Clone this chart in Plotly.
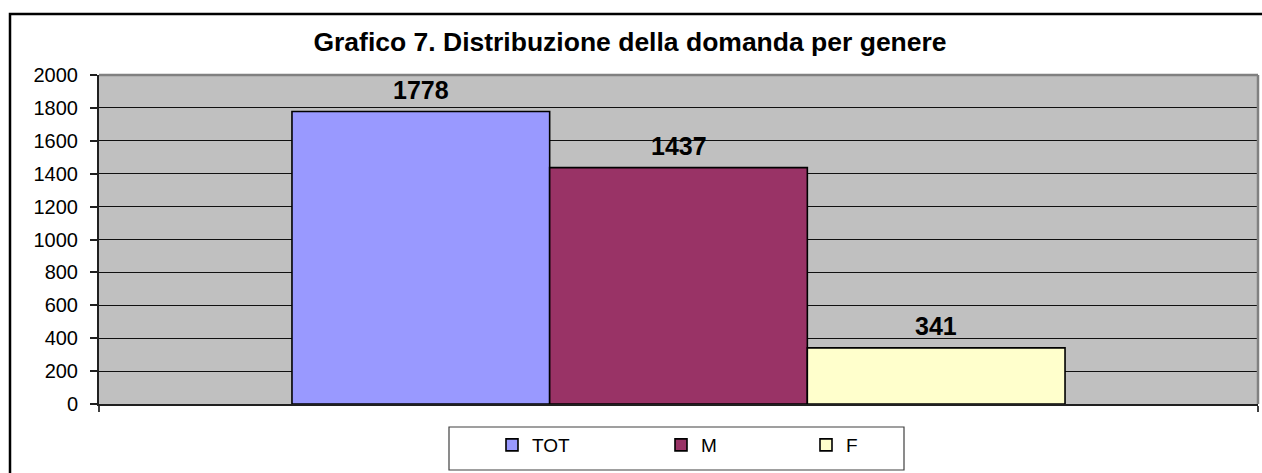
import plotly.graph_objects as go

# ---- data ----
series_names = ["TOT", "M", "F"]
series_values = [1778, 1437, 341]
series_colors = ["#9999FF", "#993366", "#FFFFCC"]
category = ["Genere"]
y_ticks = [0, 200, 400, 600, 800, 1000, 1200, 1400, 1600, 1800, 2000]
title_text = "Grafico 7. Distribuzione della domanda per genere"

W, H = 1262, 473
L, R, T, B = 99, W - 1258, 75, H - 404
PW, PH = W - L - R, H - T - B
BARGAP = 0.333

def px_x(p):
    return (p - L) / PW

def px_y(p):
    return (H - B - p) / PH

FONT = "Arial, 'Liberation Sans', sans-serif"

fig = go.Figure()
legend_ids = ["legend", "legend2", "legend3"]
legend_left_px = [492, 661, 806]
for name, val, col, lg in zip(series_names, series_values, series_colors, legend_ids):
    fig.add_trace(go.Bar(
        name=name, x=category, y=[val],
        marker=dict(color=col, line=dict(color="black", width=1.6)),
        legend=lg,
    ))

# value labels above the bars (positions follow the grouped bar layout)
n = len(series_values)
group_w = 1 - BARGAP
bar_w = group_w / n
annotations = []
for i, val in enumerate(series_values):
    annotations.append(dict(
        x=-group_w / 2 + bar_w * (i + 0.5), y=val, xref="x", yref="y",
        text="<b>%d</b>" % val, showarrow=False, xanchor="center", yanchor="bottom",
        yshift=6, font=dict(family=FONT, size=25, color="black"),
    ))

legend_common = dict(orientation="h", bgcolor="rgba(0,0,0,0)", borderwidth=0,
                     font=dict(family=FONT, size=19, color="black"),
                     xanchor="left", yanchor="middle", y=px_y(445))
layout_legends = {}
for lg, lx in zip(legend_ids, legend_left_px):
    layout_legends[lg] = dict(legend_common, x=px_x(lx))

fig.update_layout(
    width=W, height=H,
    margin=dict(l=L, r=R, t=T, b=B),
    paper_bgcolor="white", plot_bgcolor="#C0C0C0",
    barmode="group", bargap=BARGAP, bargroupgap=0,
    showlegend=True,
    font=dict(family=FONT, color="black"),
    title=dict(text="<b>" + title_text + "</b>", font=dict(family=FONT, size=26.5, color="black"),
               x=px_x(630), xanchor="center", xref="paper",
               y=1 - 42 / H, yanchor="middle", yref="container"),
    xaxis=dict(type="category", showticklabels=False, ticks="outside", tickson="boundaries",
               ticklen=6, tickcolor="#404040", tickwidth=1.5,
               showline=True, linecolor="#202020", linewidth=2, showgrid=False,
               range=[-0.5, 0.5], fixedrange=True),
    yaxis=dict(range=[0, 2000], tickvals=y_ticks, ticks="outside", ticklen=7,
               tickcolor="#202020", tickwidth=1.5,
               tickfont=dict(family=FONT, size=20, color="black"),
               ticklabelstandoff=8,
               showline=True, linecolor="#202020", linewidth=2,
               showgrid=True, gridcolor="#101010", gridwidth=1.2, zeroline=False),
    annotations=annotations,
    shapes=[
        # plot area top/right border
        dict(type="line", xref="paper", yref="paper", x0=0, x1=1, y0=1, y1=1,
             line=dict(color="#808080", width=2.5), layer="above"),
        dict(type="line", xref="paper", yref="paper", x0=1, x1=1, y0=0, y1=1,
             line=dict(color="#808080", width=2.5), layer="above"),
        # outer chart frame
        dict(type="rect", xref="paper", yref="paper",
             x0=px_x(10), x1=px_x(1275), y0=px_y(490), y1=px_y(14),
             line=dict(color="black", width=2.5), fillcolor="rgba(0,0,0,0)", layer="above"),
        # legend box
        dict(type="rect", xref="paper", yref="paper",
             x0=px_x(449), x1=px_x(904), y0=px_y(470), y1=px_y(427),
             line=dict(color="#404040", width=1.2), fillcolor="white", layer="below"),
    ],
    **layout_legends,
)

fig.write_html(
    "out.html",
    config={"displayModeBar": False},
    post_script="document.documentElement.style.margin='0';document.body.style.margin='0';"
                "document.body.style.overflow='hidden';",
)
